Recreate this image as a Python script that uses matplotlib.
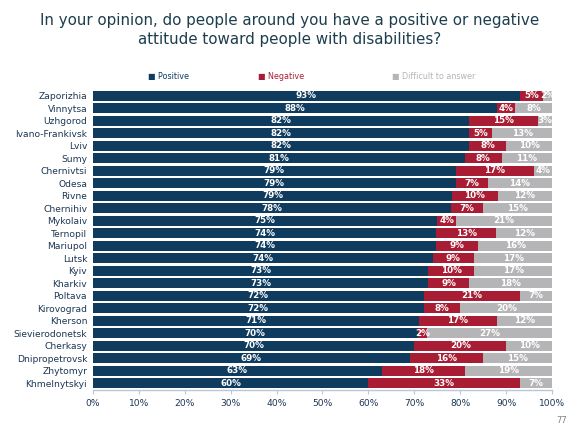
import numpy as np
import matplotlib
matplotlib.use('Agg')
import matplotlib.pyplot as plt
from matplotlib.ticker import FuncFormatter

cities = ['Zaporizhia', 'Vinnytsa', 'Uzhgorod', 'Ivano-Frankivsk', 'Lviv', 'Sumy',
          'Chernivtsi', 'Odesa', 'Rivne', 'Chernihiv', 'Mykolaiv', 'Ternopil',
          'Mariupol', 'Lutsk', 'Kyiv', 'Kharkiv', 'Poltava', 'Kirovograd',
          'Kherson', 'Sievierodonetsk', 'Cherkasy', 'Dnipropetrovsk', 'Zhytomyr',
          'Khmelnytskyi']
positive = [93, 88, 82, 82, 82, 81, 79, 79, 79, 78, 75, 74, 74, 74, 73, 73, 72, 72, 71, 70, 70, 69, 63, 60]
negative = [5, 4, 15, 5, 8, 8, 17, 7, 10, 7, 4, 13, 9, 9, 10, 9, 21, 8, 17, 2, 20, 16, 18, 33]
difficult = [2, 8, 3, 13, 10, 11, 4, 14, 12, 15, 21, 12, 16, 17, 17, 18, 7, 20, 12, 27, 10, 15, 19, 7]
series_names = ['Positive', 'Negative', 'Difficult to answer']
colors = ['#0f3b5f', '#a81d33', '#b5b5b7']

title_col = '#1d3e4e'
label_col = '#1c3654'

pos = np.array(positive, float)
neg = np.array(negative, float)
dif = np.array(difficult, float)
tot = pos + neg + dif
# bars are drawn to 100% each
widths = [pos / tot * 100, neg / tot * 100, dif / tot * 100]
values = [positive, negative, difficult]

fig = plt.figure(figsize=(5.8, 4.29), dpi=100)
ax = fig.add_axes([0.160, 0.092, 0.792, 0.699])

y = np.arange(len(cities))
left = np.zeros(len(cities))
for w, vals, c in zip(widths, values, colors):
    ax.barh(y, w, left=left, height=0.8, color=c, edgecolor='none')
    for yi, (l, wi, v) in enumerate(zip(left, w, vals)):
        ax.text(l + wi / 2, yi, '%d%%' % v, ha='center', va='center',
                color='white', fontsize=6.3, fontweight='bold')
    left = left + w

ax.set_xlim(0, 100)
ax.set_ylim(len(cities) - 0.5, -0.5)
ax.set_yticks(y)
ax.set_yticklabels(cities, fontsize=6.6, color=label_col)
ax.tick_params(axis='y', length=0, pad=4)
ax.set_xticks(np.arange(0, 101, 10))
ax.xaxis.set_major_formatter(FuncFormatter(lambda v, p: '%d%%' % v))
ax.tick_params(axis='x', labelsize=6.6, labelcolor=label_col, color='#b8c8d8',
               length=3, pad=4)
for s in ['top', 'right', 'left']:
    ax.spines[s].set_visible(False)
ax.spines['bottom'].set_color('#b8c8d8')
ax.spines['bottom'].set_linewidth(1.0)

fig.text(0.5, 0.93, 'In your opinion, do people around you have a positive or negative\n'
         'attitude toward people with disabilities?', ha='center', va='center',
         fontsize=10.9, color=title_col, linespacing=1.35)

leg_x = [0.255, 0.445, 0.675]
for x, name, c in zip(leg_x, series_names, colors):
    fig.text(x, 0.822, '\u25a0 ' + name, ha='left', va='center', fontsize=5.8, color=c)

fig.text(0.978, 0.02, '77', ha='right', va='center', fontsize=6, color='#808080')

fig.savefig('out.png', dpi=100)
